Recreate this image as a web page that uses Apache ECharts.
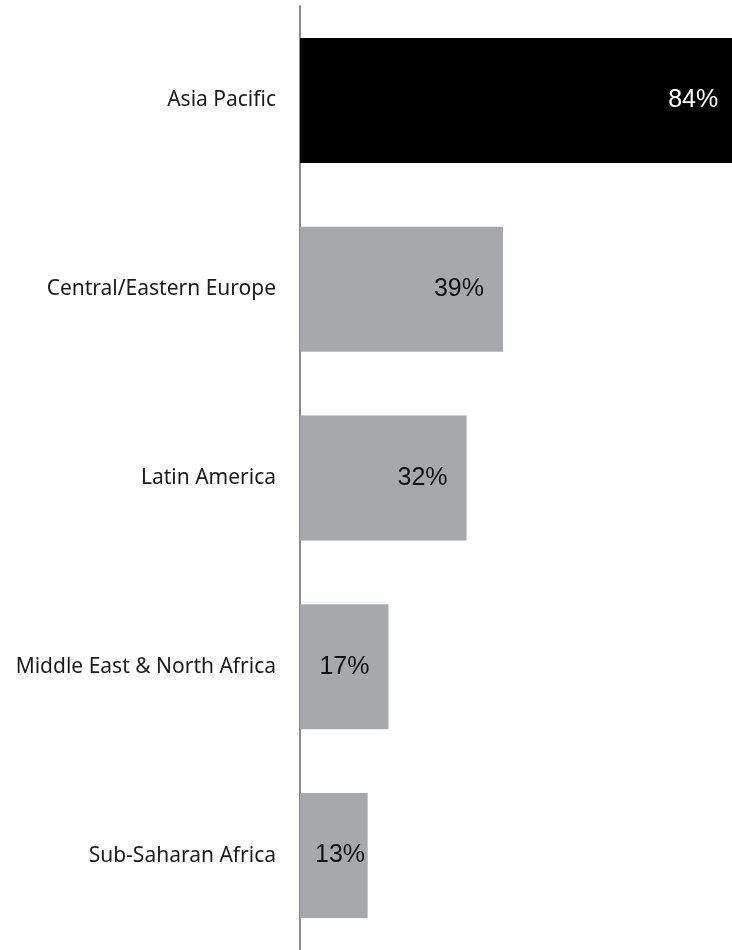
<!DOCTYPE html>
<html>
<head>
<meta charset="utf-8">
<style>
  html, body { margin: 0; padding: 0; background: #ffffff; overflow: hidden; }
  #chart { width: 732px; height: 950px; }
</style>
<script src="https://cdn.jsdelivr.net/npm/echarts@6/dist/echarts.min.js"></script>
</head>
<body>
<div id="chart"></div>
<script>
// Regions, top to bottom
const regions = [
  'Asia Pacific',
  'Central/Eastern Europe',
  'Latin America',
  'Middle East & North Africa',
  'Sub-Saharan Africa'
];
// Share per region, percent
const shares = [84, 39, 32, 17, 13];
// Highlighted region
const highlight = 'Asia Pacific';

const chart = echarts.init(document.getElementById('chart'), null, { renderer: 'canvas' });

const barData = shares.map((v, i) => {
  const isHi = regions[i] === highlight;
  const shortBar = v < 15;
  return {
    value: v,
    itemStyle: { color: isHi ? '#000000' : '#a7a8ab' },
    label: {
      color: isHi ? '#ffffff' : '#111111',
      position: shortBar ? 'insideLeft' : 'insideRight',
      distance: shortBar ? 15 : 19
    }
  };
});

chart.setOption({
  animation: false,
  grid: { left: 300, right: 0, top: 6, bottom: 0, containLabel: false },
  // the axis ends just short of the longest bar, which runs off the right edge
  xAxis: {
    type: 'value',
    min: 0,
    max: 83,
    show: false
  },
  yAxis: {
    type: 'category',
    inverse: true,
    data: regions,
    axisLine: { show: true, lineStyle: { color: '#8a8a8a', width: 2 } },
    axisTick: { show: false },
    axisLabel: {
      margin: 24,
      fontFamily: 'Noto Sans',
      fontSize: 21,
      color: '#1a1a1a'
    }
  },
  series: [{
    type: 'bar',
    data: barData,
    barWidth: 125,
    clip: false,
    label: {
      show: true,
      formatter: '{c}%',
      fontFamily: 'Liberation Sans',
      fontSize: 25
    }
  }]
});
</script>
</body>
</html>
